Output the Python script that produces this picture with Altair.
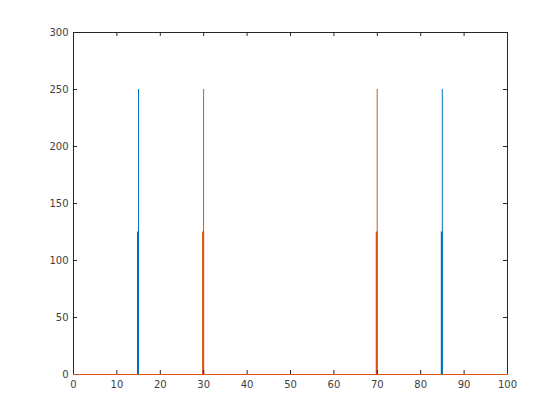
import altair as alt
import pandas as pd

positions = [15, 30, 70, 85]
line_heights = [250, 250, 250, 250]
bar_heights = [125, 125, 125, 125]
series = ["A", "B", "B", "A"]
x_ticks = [0, 10, 20, 30, 40, 50, 60, 70, 80, 90, 100]
y_ticks = [0, 50, 100, 150, 200, 250, 300]

W, H = 434, 342
BLUE, ORANGE = "#0072BD", "#D95319"
AX = "#262626"

df = pd.DataFrame({"x": positions, "line": line_heights, "bar": bar_heights, "s": series})
xt = pd.DataFrame({"v": x_ticks})
yt = pd.DataFrame({"v": y_ticks})

xs = alt.Scale(domain=[0, 100], nice=False, zero=False)
ys = alt.Scale(domain=[0, 300], nice=False)
cs = alt.Scale(domain=["A", "B"], range=[BLUE, ORANGE])

xaxis = alt.Axis(values=x_ticks, ticks=False, grid=False, title=None, labelFontSize=10,
                 labelColor="#404040", labelPadding=5, domainColor=AX, labelFont="DejaVu Sans", labelFlush=False)
yaxis = alt.Axis(values=y_ticks, ticks=False, grid=False, title=None, labelFontSize=10,
                 labelColor="#404040", labelPadding=5, domainColor=AX, labelFont="DejaVu Sans")

thin = alt.Chart(df).mark_rule(strokeWidth=1, xOffset=0.4).encode(
    x=alt.X("x:Q", scale=xs, axis=xaxis),
    y=alt.Y("line:Q", scale=ys, axis=yaxis),
    y2=alt.datum(0),
    color=alt.Color("s:N", scale=cs, legend=None),
)
thick = alt.Chart(df).mark_rule(strokeWidth=2, xOffset=-0.1).encode(
    x=alt.X("x:Q", scale=xs),
    y=alt.Y("bar:Q", scale=ys),
    y2=alt.datum(0),
    color=alt.Color("s:N", scale=cs, legend=None),
)

box_top = alt.Chart(xt).mark_rule(color=AX, strokeWidth=1, yOffset=0.5).encode(
    x=alt.value(0), x2=alt.value(W), y=alt.value(0))
box_right = alt.Chart(xt).mark_rule(color=AX, strokeWidth=1, xOffset=0.5).encode(
    x=alt.value(W), y=alt.value(0), y2=alt.value(H))

tb = alt.Chart(xt).mark_rule(color=AX, strokeWidth=1, xOffset=0.5).encode(
    x=alt.X("v:Q", scale=xs), y=alt.value(H), y2=alt.value(H - 4))
tt = alt.Chart(xt).mark_rule(color=AX, strokeWidth=1, xOffset=0.5).encode(
    x=alt.X("v:Q", scale=xs), y=alt.value(0), y2=alt.value(4))
tl = alt.Chart(yt).mark_rule(color=AX, strokeWidth=1, yOffset=0.5).encode(
    y=alt.Y("v:Q", scale=ys), x=alt.value(0), x2=alt.value(4))
tr = alt.Chart(yt).mark_rule(color=AX, strokeWidth=1, yOffset=0.5).encode(
    y=alt.Y("v:Q", scale=ys), x=alt.value(W), x2=alt.value(W - 4))

base = alt.Chart(xt).mark_rule(color=ORANGE, strokeWidth=1, yOffset=0.5).encode(
    x=alt.datum(0), x2=alt.datum(100), y=alt.datum(0))

chart = alt.layer(thin, thick, box_top, box_right, tb, tt, tl, tr, base).properties(
    width=W, height=H,
    autosize=alt.AutoSizeParams(type="none"),
    padding={"left": 65, "top": 24, "right": 10, "bottom": 40},
).configure_view(stroke=None).configure(background="white")

chart.save("out.html", embed_options={"renderer": "svg", "actions": False})
